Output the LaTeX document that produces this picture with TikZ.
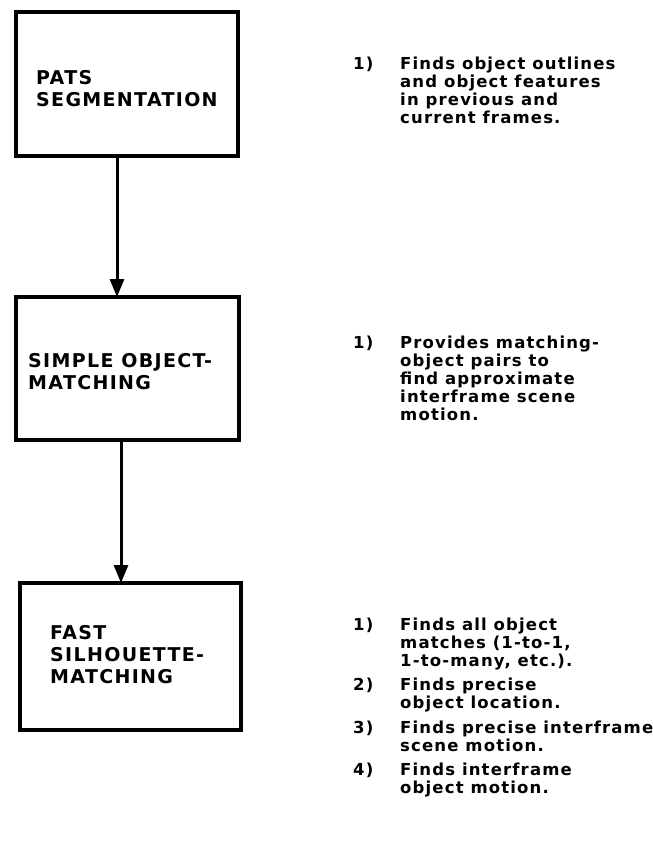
\documentclass[tikz,border=0pt]{standalone}
\usepackage{fontspec}
\setmainfont{DejaVu Sans}
\newfontfamily\boxfont[LetterSpace=7]{DejaVu Sans}
\newfontfamily\notefont[LetterSpace=7]{DejaVu Sans}
\usetikzlibrary{arrows.meta}
\begin{document}
\begin{tikzpicture}[x=1pt,y=-1pt,
  stage/.style={draw, line width=4pt, inner sep=0pt, outer sep=0pt, anchor=north west},
  boxtext/.style={font=\boxfont\bfseries\fontsize{19}{22}\selectfont, inner sep=0pt, anchor=base west},
  notetext/.style={font=\notefont\bfseries\fontsize{16.5}{18}\selectfont, inner sep=0pt, anchor=base west},
  flow/.style={line width=3pt, -{Triangle[length=18pt,width=14pt]}}]
\useasboundingbox (0,0) rectangle (653,857);

% processing stages
\node[stage, minimum width=222pt, minimum height=144pt] (pats) at (16,12) {};
\node[stage, minimum width=223pt, minimum height=143pt] (simple) at (16,297) {};
\node[stage, minimum width=221pt, minimum height=147pt] (fast) at (20,583) {};

% stage titles
\node[boxtext] (patsl) at (36,84) {\begin{tabular}[t]{@{}l@{}}PATS\\SEGMENTATION\end{tabular}};
\node[boxtext] (simplel) at (28,367) {\begin{tabular}[t]{@{}l@{}}SIMPLE OBJECT-\\MATCHING\end{tabular}};
\node[boxtext] (fastl) at (50,639) {\begin{tabular}[t]{@{}l@{}}FAST\\SILHOUETTE-\\MATCHING\end{tabular}};

% data flow between stages
\draw[flow] ([xshift=101pt]pats.south west) -- ([xshift=101pt]simple.north west);
\draw[flow] ([xshift=105pt]simple.south west) -- ([xshift=101pt]fast.north west);

% notes on each stage
\node[notetext] (n1) at (353,69) {\begin{tabular}[t]{@{}p{47pt}@{}l@{}}1) & Finds object outlines\\ & and object features\\ & in previous and\\ & current frames.\end{tabular}};
\node[notetext] (n2) at (353,348) {\begin{tabular}[t]{@{}p{47pt}@{}l@{}}1) & Provides matching-\\ & object pairs to\\ & find approximate\\ & interframe scene\\ & motion.\end{tabular}};
\node[notetext] (n3a) at (353,630) {\begin{tabular}[t]{@{}p{47pt}@{}l@{}}1) & Finds all object\\ & matches (1-to-1,\\ & 1-to-many, etc.).\end{tabular}};
\node[notetext] (n3b) at (353,690) {\begin{tabular}[t]{@{}p{47pt}@{}l@{}}2) & Finds precise\\ & object location.\end{tabular}};
\node[notetext] (n3c) at (353,733) {\begin{tabular}[t]{@{}p{47pt}@{}l@{}}3) & Finds precise interframe\\ & scene motion.\end{tabular}};
\node[notetext] (n3d) at (353,775) {\begin{tabular}[t]{@{}p{47pt}@{}l@{}}4) & Finds interframe\\ & object motion.\end{tabular}};
\end{tikzpicture}
\end{document}
